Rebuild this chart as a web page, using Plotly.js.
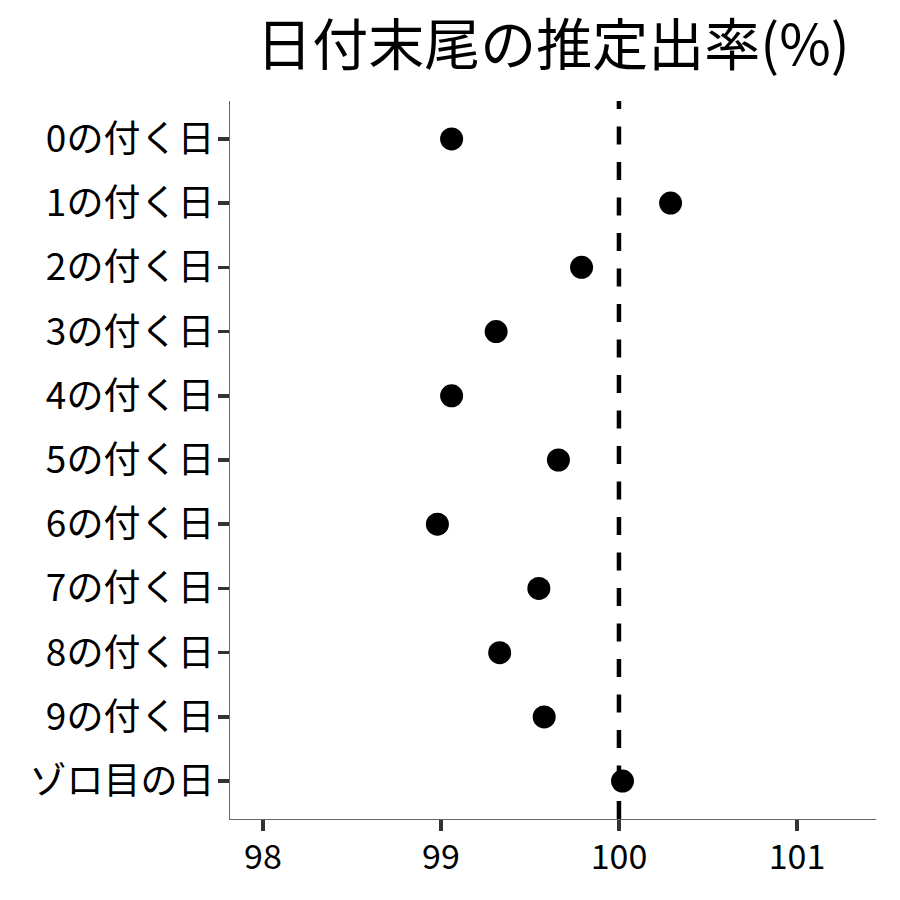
<!DOCTYPE html>
<html>
<head>
<meta charset="utf-8">
<script src="https://cdn.plot.ly/plotly-3.0.1.min.js"></script>
<style>html,body{margin:0;padding:0;background:#fff;}#chart{width:900px;height:900px;}</style>
</head>
<body>
<div id="chart"></div>
<script>
const categories = ["0の付く日","1の付く日","2の付く日","3の付く日","4の付く日","5の付く日","6の付く日","7の付く日","8の付く日","9の付く日","ゾロ目の日"];
const rates = [99.06, 100.29, 99.79, 99.31, 99.06, 99.66, 98.98, 99.55, 99.33, 99.58, 100.02];
const xTicks = [98, 99, 100, 101];
const refValue = 100;
const titleText = "日付末尾の推定出率(%)";

const font = '"Noto Sans CJK JP", "Noto Sans", sans-serif';

const trace = {
  type: 'scatter', mode: 'markers',
  x: rates, y: categories,
  marker: {color: '#000000', size: 23, line: {width: 0}},
  hoverinfo: 'x+y'
};

const layout = {
  width: 900, height: 900,
  paper_bgcolor: '#ffffff', plot_bgcolor: '#ffffff',
  margin: {l: 230, r: 24, t: 101, b: 81},
  showlegend: false,
  font: {family: font, color: '#000000'},
  title: {text: titleText, font: {family: font, size: 56, color: '#000000'}, x: 0.5, xref: 'paper', xanchor: 'center', y: 0.95, yref: 'container', yanchor: 'middle'},
  xaxis: {
    range: [97.815, 101.444], tickvals: xTicks, ticktext: xTicks.map(String),
    showgrid: false, zeroline: false,
    showline: true, linecolor: '#666666', linewidth: 1.2,
    ticks: 'outside', ticklen: 11, tickwidth: 3.5, tickcolor: '#333333',
    ticklabelstandoff: -3,
    tickfont: {family: font, size: 34, color: '#000000'}
  },
  yaxis: {
    type: 'category', categoryorder: 'array', categoryarray: categories,
    range: [10.59, -0.59],
    showgrid: false, zeroline: false,
    showline: true, linecolor: '#666666', linewidth: 1.2,
    ticks: 'outside', ticklen: 11, tickwidth: 3.5, tickcolor: '#333333',
    ticklabelstandoff: -4,
    tickfont: {family: font, size: 37, color: '#000000'}
  },
  shapes: [{
    type: 'line', xref: 'x', yref: 'paper', x0: refValue, x1: refValue, y0: 0, y1: 1,
    line: {color: '#000000', width: 4.5, dash: '18px,17.5px'}, layer: 'below'
  }]
};

Plotly.newPlot('chart', [trace], layout, {displayModeBar: false, staticPlot: true});
</script>
</body>
</html>
